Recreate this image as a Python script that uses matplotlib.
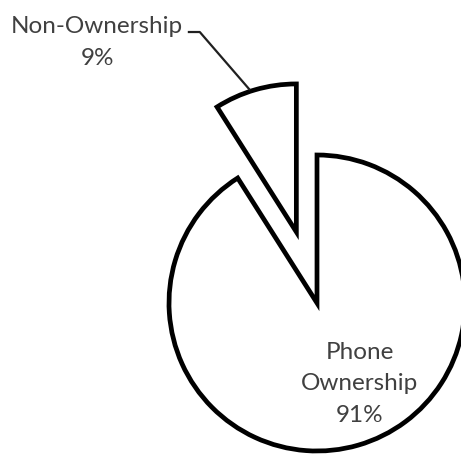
import matplotlib
matplotlib.use("Agg")
import matplotlib.pyplot as plt

labels = ["Non-Ownership", "Phone\nOwnership"]
shares = [9, 91]
explode = [0.5, 0.0]

# pixel geometry of the reference (pie centre and radius)
W, H = 461, 454
cx, cy, r = 317, 303, 148

fig = plt.figure(figsize=(W / 100, H / 100), dpi=100)
ax = fig.add_axes([0, 0, 1, 1])

wedges, _ = ax.pie(shares, explode=explode, startangle=90, counterclock=True,
                   colors=["white", "white"],
                   wedgeprops=dict(edgecolor="black", linewidth=3.4))

ax.set_aspect("auto")
ax.set_xlim(-cx / r, (W - cx) / r)
ax.set_ylim(-(H - cy) / r, cy / r)
ax.axis("off")

txt = dict(family="Lato", fontsize=17.5, color="#404040", ha="center",
           va="center", linespacing=1.62)

# small slice label with leader line
ax.text(-1.486, 1.76, "{}\n{}%".format(labels[0], shares[0]), **txt)
ax.plot([-0.873, -0.792, -0.453], [1.831, 1.831, 1.439],
        color="#202020", lw=1.6, solid_capstyle="butt")

# big slice label
ax.text(0.29, -0.545, "{}\n{}%".format(labels[1], shares[1]), **txt)

fig.savefig("out.png", dpi=100)
